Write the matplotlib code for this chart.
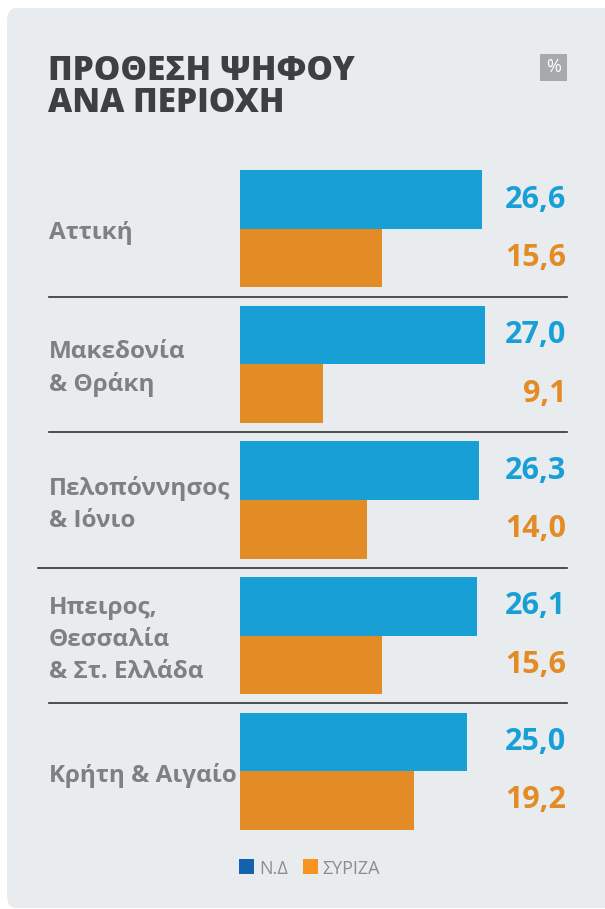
import matplotlib
matplotlib.use("Agg")
import matplotlib.pyplot as plt
from matplotlib.patches import FancyBboxPatch, Rectangle
from matplotlib.transforms import blended_transform_factory

regions = ["Αττική", "Μακεδονία\n& Θράκη", "Πελοπόννησος\n& Ιόνιο",
           "Ηπειρος,\nΘεσσαλία\n& Στ. Ελλάδα", "Κρήτη & Αιγαίο"]
nd = [26.6, 27.0, 26.3, 26.1, 25.0]
syriza = [15.6, 9.1, 14.0, 15.6, 19.2]
series_names = ["Ν.Δ", "ΣΥΡΙΖΑ"]

W, H = 605, 909
BLUE = "#189fd6"
ORANGE = "#e38b24"
GRAY = "#808083"
BG = "#e8ecef"


def fx(x):
    return x / W


def fy(y):
    return 1 - y / H


plt.rcParams["font.family"] = ["Open Sans", "DejaVu Sans"]

fig = plt.figure(figsize=(W / 100, H / 100), dpi=100)
fig.patch.set_facecolor("white")

# panel background
panel = FancyBboxPatch((fx(7), fy(908)), fx(640) - fx(7), fy(8) - fy(908),
                       boxstyle="round,pad=0,rounding_size=0.015",
                       transform=fig.transFigure, facecolor=BG, edgecolor="none",
                       zorder=0)
fig.add_artist(panel)

# title
for txt, base in [("ΠΡΟΘΕΣΗ ΨΗΦΟΥ", 80), ("ΑΝΑ ΠΕΡΙΟΧΗ", 112)]:
    fig.text(fx(48), fy(base), txt, fontsize=24, fontweight="heavy",
             color="#3e3f42", va="baseline")

# percent box
fig.add_artist(Rectangle((fx(540), fy(81)), fx(567) - fx(540), fy(54) - fy(81),
                         transform=fig.transFigure, facecolor="#a7a9ac",
                         edgecolor="none"))
fig.text(fx(553.5), fy(67.5), "%", fontsize=13, color="white",
         ha="center", va="center")

# bars
px_per_unit = 9.08
ax = fig.add_axes([fx(240), fy(839), fx(566) - fx(240), fy(161) - fy(839)])
ax.set_facecolor("none")
xmax = (566 - 240) / px_per_unit
ax.set_xlim(0, xmax)
ax.set_ylim(len(regions) - 0.5, -0.5)
ax.axis("off")

h = 0.432
ypos = list(range(len(regions)))
ax.barh([y - h / 2 for y in ypos], nd, height=h, color=BLUE)
ax.barh([y + h / 2 for y in ypos], syriza, height=h, color=ORANGE)

for y, a, b in zip(ypos, nd, syriza):
    ax.text(xmax, y - h / 2, f"{a:.1f}".replace(".", ","), ha="right",
            va="center", fontsize=22, fontweight="bold", color=BLUE)
    ax.text(xmax, y + h / 2, f"{b:.1f}".replace(".", ","), ha="right",
            va="center", fontsize=22, fontweight="bold", color=ORANGE)

blend = blended_transform_factory(fig.transFigure, ax.transData)
for y, name in zip(ypos, regions):
    ax.text(fx(49), y + 0.03, name, transform=blend, ha="left", va="center",
            fontsize=17.5, fontweight="bold", color=GRAY, linespacing=1.45)

# separators
for i in range(len(regions) - 1):
    x0 = 38 if i == 2 else 49
    ax.plot([fx(x0), fx(567)], [i + 0.5, i + 0.5], transform=blend,
            color="#333333", lw=1.2, clip_on=False)

# legend
fig.add_artist(Rectangle((fx(239), fy(874)), fx(15), 15 / H,
                         transform=fig.transFigure, facecolor="#1461ad",
                         edgecolor="none"))
fig.text(fx(259), fy(874), series_names[0], fontsize=13, color="#8a8d91",
         va="baseline")
fig.add_artist(Rectangle((fx(303), fy(874)), fx(15), 15 / H,
                         transform=fig.transFigure, facecolor="#f7931e",
                         edgecolor="none"))
fig.text(fx(322), fy(874), series_names[1], fontsize=13, color="#8a8d91",
         va="baseline")

fig.savefig("out.png", dpi=100)
